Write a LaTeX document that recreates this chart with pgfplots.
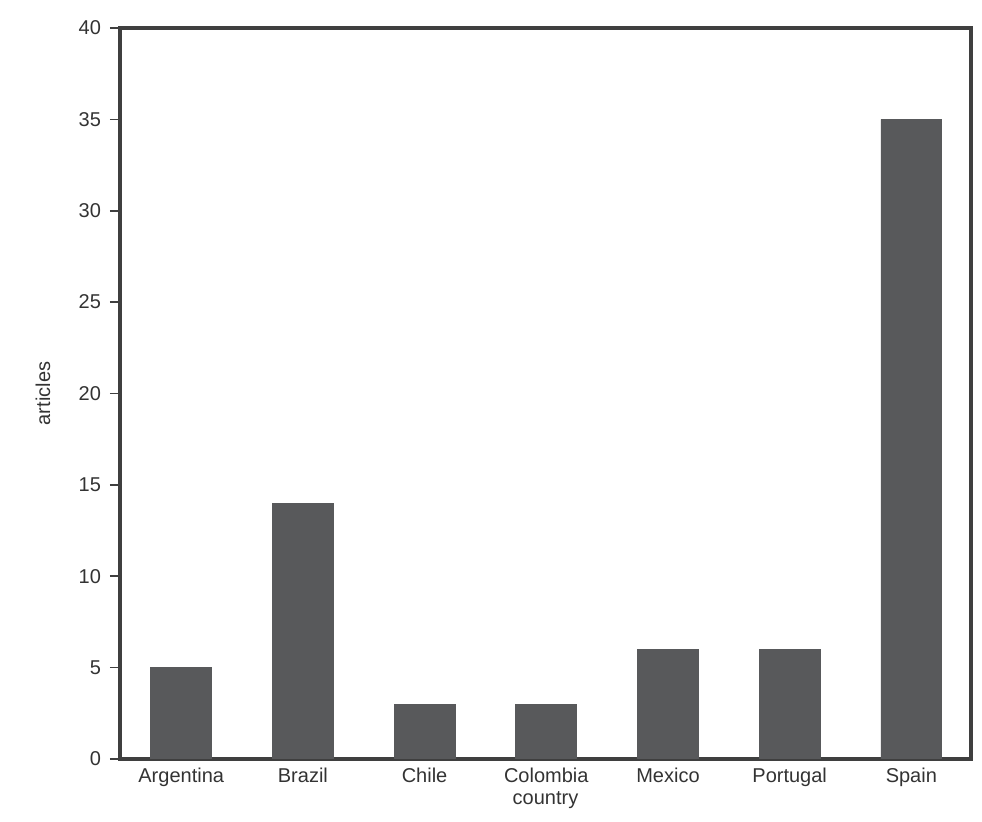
\documentclass[border=0pt]{standalone}
\usepackage{pgfplots}
\pgfplotsset{compat=1.18}
\usepackage{fontspec}
\setmainfont{Liberation Sans}
\definecolor{barc}{HTML}{58595B}
\definecolor{framec}{HTML}{3F3F3F}
\definecolor{textc}{HTML}{333333}
\begin{document}
\begin{tikzpicture}
\begin{axis}[
    at={(0,0)}, anchor=south west,
    scale only axis,
    width=425.5pt, height=365.5pt,
    xmin=-0.503, xmax=6.49,
    ymin=0, ymax=40,
    ytick={0,5,...,40},
    xtick={0,1,2,3,4,5,6},
    xticklabels={Argentina,Brazil,Chile,Colombia,Mexico,Portugal,Spain},
    major x tick style={draw=none},
    ytick pos=left,
    ytick style={draw=framec, line width=0.8pt},
    tick align=outside,
    major tick length=5pt,
    axis line style={draw=framec, line width=1.4pt},
    y axis line style={line width=1.6pt},
    tick label style={font=\fontsize{10}{12}\selectfont, text=textc},
    /pgf/number format/assume math mode=true,
    yticklabel style={xshift=-1pt},
    xticklabel style={yshift=4pt},
    label style={font=\fontsize{10}{12}\selectfont, text=textc},
    ylabel={articles},
    ylabel style={at={(axis description cs:-0.0905,0.5)}, anchor=center, rotate=0},
    xlabel={country},
    xlabel style={at={(axis description cs:0.5,0)}, anchor=center, yshift=-20.5pt},
    ybar, bar width=0.5,
]
\addplot[fill=barc, draw=barc] coordinates {
    (0,5) (1,14) (2,3) (3,3) (4,6) (5,6) (6,35)
};
\end{axis}
\pgfresetboundingbox
\path[use as bounding box] (-60pt,-31.5pt) rectangle (431pt,379.5pt);
\end{tikzpicture}
\end{document}
